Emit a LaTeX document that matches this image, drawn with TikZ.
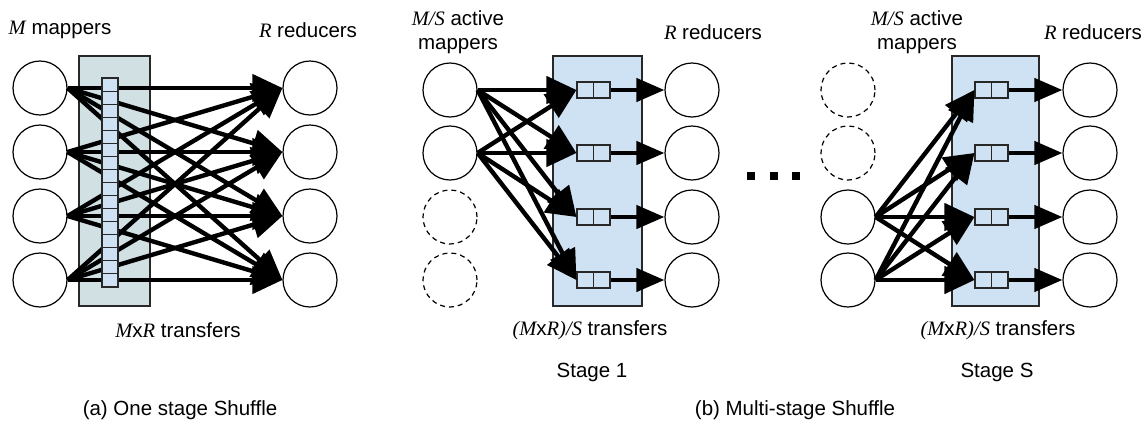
\documentclass[tikz,border=0pt]{standalone}
\usepackage{fontspec}
\setmainfont{Liberation Sans}
\newfontfamily\tnr{Liberation Serif}
\usetikzlibrary{arrows.meta}
\definecolor{boxa}{RGB}{208,224,227}
\definecolor{boxb}{RGB}{207,226,243}
\definecolor{edgec}{RGB}{40,40,40}
\newcommand\vi[1]{{\tnr\itshape #1}}
\begin{document}
\begin{tikzpicture}[x=1pt,y=-1pt,
 every node/.style={font=\fontsize{20.5}{24}\selectfont},
 nd/.style={circle,draw,line width=1.2pt,minimum size=54pt,inner sep=0pt},
 ghost/.style={nd,dash pattern=on 5pt off 4pt},
 panel/.style={draw=edgec,line width=1.2pt,inner sep=0pt},
 cell/.style={draw=edgec,fill=boxb,line width=1.1pt,minimum width=16pt,minimum height=13.06pt,inner sep=0pt},
 queue/.style={draw=edgec,fill=boxb,line width=1.1pt,minimum width=33pt,minimum height=16pt,inner sep=0pt},
 big/.style={line width=4.4pt,-{Triangle[length=30pt,width=27pt]}},
 small/.style={line width=4.4pt,-{Triangle[length=28pt,width=23pt]}},
 dotsq/.style={fill=black,minimum size=8pt,inner sep=0pt}
]
\useasboundingbox (0,0) rectangle (1146,421);

% ---------- panel (a)
\node[panel,fill=boxa,minimum width=71pt,minimum height=250pt] (pa) at (114.5,181) {};
\foreach \i/\y in {1/88,2/152,3/216,4/280}{
  \node[nd] (am\i) at (40,\y) {};
  \node[nd] (ar\i) at (310,\y) {};
}
\foreach \i in {1,...,4}{
  \foreach \j in {1,...,4}{
    \draw[big] (am\i.east) -- (ar\j.west);
  }
}
\foreach \k in {1,...,16}{
  \node[cell] (s\k) at (110,{78+13.06*(\k-0.5)}) {};
}
\node (la1) at (60,30) {\vi{M} mappers};
\node (la2) at (308,30) {\vi{R} reducers};
\node (la3) at (178,330) {\vi{M}x\vi{R} transfers};

% ---------- stage 1
\node[panel,fill=boxb,minimum width=89pt,minimum height=250pt] (pb) at (597.5,181) {};
\foreach \i/\y in {1/90,2/153,3/217,4/280}{
  \node[queue] (bq\i) at (593.5,\y) {};
  \draw[line width=1.1pt,draw=edgec] (bq\i.north) -- (bq\i.south);
  \node[nd] (br\i) at (692,\y) {};
  \draw[small] (bq\i.east) -- (br\i.west);
}
\node[nd] (bm1) at (450,90) {};
\node[nd] (bm2) at (450,153) {};
\node[ghost] (bm3) at (450,217) {};
\node[ghost] (bm4) at (450,280) {};
\foreach \i in {1,2}{
  \foreach \j in {1,...,4}{
    \draw[big] (bm\i.east) -- (bq\j.west);
  }
}
\node[align=center] (lb1) at (458,32) {\vi{M/S} active\\mappers};
\node (lb2) at (713,32) {\vi{R} reducers};
\node (lb3) at (590,330) {\vi{(M}x\vi{R)/S} transfers};
\node (lb4) at (592,372) {Stage 1};

% ---------- dots
\node[dotsq] (d1) at (751,176) {};
\node[dotsq] (d2) at (774,176) {};
\node[dotsq] (d3) at (796,176) {};

% ---------- stage S
\node[panel,fill=boxb,minimum width=87pt,minimum height=250pt] (pc) at (995.5,181) {};
\foreach \i/\y in {1/90,2/153,3/217,4/280}{
  \node[queue] (cq\i) at (991.5,\y) {};
  \draw[line width=1.1pt,draw=edgec] (cq\i.north) -- (cq\i.south);
  \node[nd] (cr\i) at (1090,\y) {};
  \draw[small] (cq\i.east) -- (cr\i.west);
}
\node[ghost] (cm1) at (848,90) {};
\node[ghost] (cm2) at (848,153) {};
\node[nd] (cm3) at (848,217) {};
\node[nd] (cm4) at (848,280) {};
\foreach \i in {3,4}{
  \foreach \j in {1,...,4}{
    \draw[big] (cm\i.east) -- (cq\j.west);
  }
}
\node[align=center] (lc1) at (917,32) {\vi{M/S} active\\mappers};
\node (lc2) at (1093,32) {\vi{R} reducers};
\node (lc3) at (998,330) {\vi{(M}x\vi{R)/S} transfers};
\node (lc4) at (997,372) {Stage S};

% ---------- captions
\node (capa) at (180,410) {(a) One stage Shuffle};
\node (capb) at (795,410) {(b) Multi-stage Shuffle};
\end{tikzpicture}
\end{document}
